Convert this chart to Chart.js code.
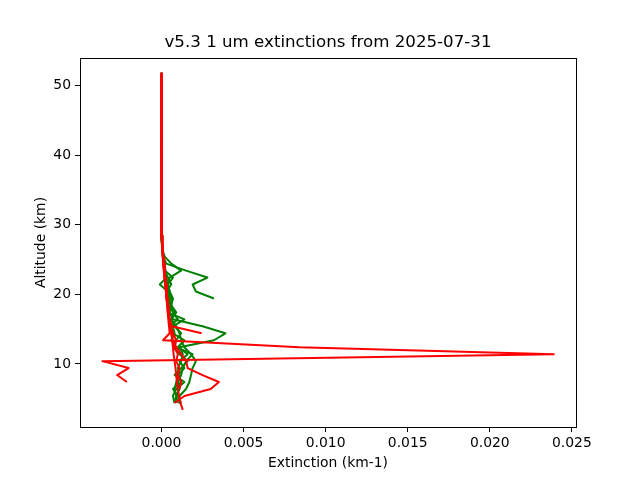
<!DOCTYPE html>
<html><head><meta charset="utf-8">
<script src="https://cdn.jsdelivr.net/npm/chart.js@4/dist/chart.umd.min.js"></script>
<style>html,body{margin:0;padding:0;background:#fff}</style>
</head><body>
<canvas id="c" width="640" height="480"></canvas>
<script>
// Altitude levels (km) shared by all profiles (top to bottom)
const altitudes = [51.7, 45.4, 40.4, 35.4, 30.4, 28.4, 26.4, 25.4, 24.4, 23.4, 22.4, 21.4, 20.4, 19.4, 18.4, 17.4, 16.4, 15.4, 14.4, 13.4, 12.4, 11.4, 10.4, 9.4, 8.4, 7.4, 6.4, 5.4, 4.4, 3.4];

// Green profiles (extinction, km-1), one value per altitude level until the profile ends
const green1 = [0, 0, 0, 0, 0.00001, 0.00002, 0.00005, 0.0001, 0.0003, 0.0015, 0.0028, 0.0019, 0.0021, 0.0032];
const green2 = [0, 0, 0, 0, 0.00002, 0.00003, 0.00006, 0.0002, 0.0006, 0.0012, 0.0005, 0.0003, 0.0004, 0.0005, 0.0006, 0.0005, 0.0007, 0.0025, 0.0039, 0.0032, 0.0011, 0.0013, 0.0012, 0.0010, 0.0011, 0.0009, 0.0008, 0.0009, 0.0010];
const green3 = [0, 0, 0, 0, 0.00001, 0.00002, 0.00004, 0.00008, 0.00012, 0.0002, 0.0003, -0.0001, 0.0004, 0.0006, 0.0005, 0.0004, 0.0014, 0.0007, 0.0008, 0.0006, 0.0009, 0.0019, 0.0015, 0.0013, 0.0012, 0.0010, 0.0011, 0.0009, 0.0008];
const green4 = [0, 0, 0, 0, 0.00001, 0.00002, 0.00005, 0.0001, 0.00015, 0.0002, 0.0007, 0.0004, 0.0005, 0.0007, 0.0006, 0.0008, 0.0006, 0.0009, 0.0011, 0.0012, 0.0014, 0.0018, 0.0021, 0.0019, 0.0018, 0.0017, 0.0015, 0.0011, 0.0011];
const green5 = [0, 0, 0, 0, 0.00002, 0.00004, 0.00007, 0.0001, 0.0002, 0.00025, 0.0003, 0.0004, 0.0005, 0.0004, 0.0006, 0.0009, 0.0006, 0.0008, 0.0012, 0.0009, 0.0007, 0.0011, 0.0016, 0.0012, 0.0008, 0.0014, 0.0009, 0.0007, 0.0008];
const green6 = [0, 0, 0, 0, 0.00001, 0.00003, 0.00005, 0.00009, 0.00014, 0.0002, 0.0004, 0.0006, 0.0003, 0.0004, 0.0005, 0.0007, 0.0010, 0.0005, 0.0007, 0.0014, 0.0010, 0.0016, 0.0011, 0.0014, 0.0010, 0.0012, 0.0007, 0.0010, 0.0012];

// Red profiles
const red1 = [0, 0, 0, 0, 0.00001, 0.00003, 0.00007, 0.0001, 0.00013, 0.00017, 0.0002, 0.00024, 0.00028, 0.00031, 0.00035, 0.00038, 0.00042, 0.00046, 0.0005, 0.0001, 0.0084, 0.0239, -0.0036, -0.0020, -0.0027, -0.0021];
const red2 = [0, 0, 0, 0, 0.00001, 0.00003, 0.00006, 0.00009, 0.00012, 0.00016, 0.0002, 0.00025, 0.0003, 0.00034, 0.00038, 0.00045, 0.0005, 0.00063, 0.00245];
const red3 = [0, 0, 0, 0, 0.00001, 0.00003, 0.00008, 0.00011, 0.00015, 0.00019, 0.00023, 0.00027, 0.00031, 0.00035, 0.00039, 0.00043, 0.00048, 0.00053, 0.0006, 0.0007, 0.0009, 0.0012, 0.0015, 0.0016, 0.0025, 0.0035, 0.0030, 0.0014, 0.0008];
const red4 = [0, 0, 0, 0, 0.00002, 0.00004, 0.00008, 0.00012, 0.00016, 0.0002, 0.00023, 0.00028, 0.00033, 0.00036, 0.0004, 0.00044, 0.0005, 0.00056, 0.0006, 0.00065, 0.0007, 0.00074, 0.0008, 0.00086, 0.0009, 0.00094, 0.001, 0.00107, 0.00116, 0.0013];
const red5 = [0, 0, 0, 0, 0.00001, 0.00002, 0.00005, 0.00008, 0.0001, 0.00014, 0.00018, 0.00022, 0.00027, 0.0003, 0.00036, 0.0004, 0.00046, 0.0006, 0.0007, 0.0009, 0.0008, 0.0010, 0.0009, 0.0011, 0.0010, 0.0012, 0.0011];

const greenProfiles = [green1, green2, green3, green4, green5, green6];
const redProfiles = [red1, red2, red3, red4, red5];

// Axis settings
const xTickStep = 0.005;
const yTickStep = 10;

function toPoints(ext) {
  return ext.map((v, i) => ({ x: v, y: altitudes[i] }));
}

const datasets = [];
redProfiles.forEach(p => datasets.push({
  data: toPoints(p), borderColor: '#ff0000', order: 0
}));
greenProfiles.forEach(p => datasets.push({
  data: toPoints(p), borderColor: '#008000', order: 1
}));
datasets.forEach(d => {
  d.showLine = true; d.pointRadius = 0; d.borderWidth = 2; d.tension = 0;
  d.borderJoinStyle = 'round'; d.fill = false;
});

const font = { family: 'DejaVu Sans', size: 13.9 };

const frame = {
  id: 'frame',
  afterDatasetsDraw(chart) {
    const { ctx, chartArea: a } = chart;
    ctx.save();
    ctx.strokeStyle = '#000';
    ctx.lineWidth = 1;
    ctx.strokeRect(Math.round(a.left) + 0.5, Math.round(a.top) + 0.5,
      Math.round(a.right) - Math.round(a.left), Math.round(a.bottom) - Math.round(a.top));
    ctx.restore();
  }
};

new Chart(document.getElementById('c'), {
  type: 'scatter',
  data: { datasets },
  plugins: [frame],
  options: {
    responsive: false, animation: false, devicePixelRatio: 1,
    layout: { padding: { left: 0, right: 64, top: 0, bottom: 0 } },
    plugins: {
      legend: { display: false }, tooltip: { enabled: false },
      title: {
        display: true, text: 'v5.3 1 um extinctions from 2025-07-31', color: '#000',
        font: { family: 'DejaVu Sans', size: 16.67, weight: 'normal' },
        padding: { top: 33, bottom: 5 }, fullSize: false
      }
    },
    scales: {
      x: {
        type: 'linear', min: -0.00496, max: 0.02525,
        afterFit(s) { s.height = 53; },
        border: { display: false },
        grid: { drawOnChartArea: false, drawTicks: true, tickLength: 5, color: '#000' },
        ticks: {
          stepSize: xTickStep, includeBounds: false, padding: 3, color: '#000', font,
          maxRotation: 0, autoSkip: false,
          callback: v => (Math.abs(v) < 1e-12 ? 0 : v).toFixed(3)
        },
        title: { display: true, text: 'Extinction (km-1)', color: '#000', font, padding: { top: 0, bottom: 8 } }
      },
      y: {
        type: 'linear', min: 0.94, max: 53.93,
        afterFit(s) { s.width = 80; },
        border: { display: false },
        grid: { drawOnChartArea: false, drawTicks: true, tickLength: 5, color: '#000' },
        ticks: {
          stepSize: yTickStep, includeBounds: false, padding: 4, color: '#000', font,
          autoSkip: false, callback: v => String(Math.round(v))
        },
        title: { display: true, text: 'Altitude (km)', color: '#000', font, padding: { top: 33, bottom: 0 } }
      }
    }
  }
});
</script>
</body></html>
